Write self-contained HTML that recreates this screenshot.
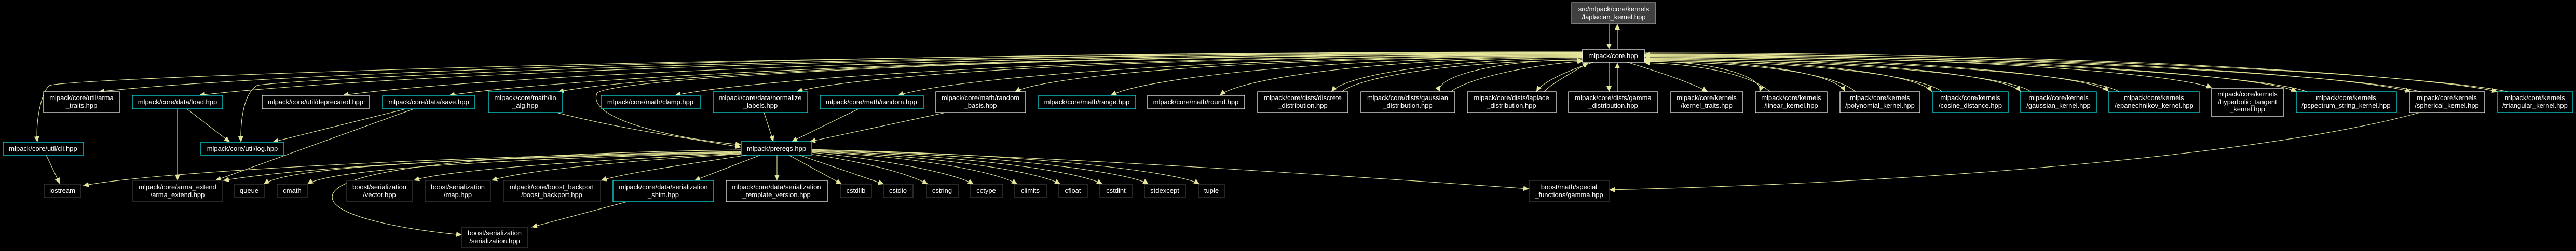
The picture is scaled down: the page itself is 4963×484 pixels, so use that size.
<!DOCTYPE html>
<html><head><meta charset="utf-8"><style>
html,body{margin:0;padding:0;background:#000;}
svg{display:block;}
text{font-family:"Liberation Sans",Arial,sans-serif;font-size:13px;fill:#fff;text-anchor:middle;}
.w{fill:#000;stroke:#f0f0f0;stroke-width:1.3;}
.c{fill:#000;stroke:#10dede;stroke-width:1.3;}
.g{fill:#000;stroke:#3a3a3a;stroke-width:1.3;}
.e path{fill:none;stroke:#e6e69a;stroke-width:1.1;}
</style></head><body>
<svg width="4963" height="484" viewBox="0 0 4963 484" xmlns="http://www.w3.org/2000/svg">
<defs><marker id="a" markerUnits="userSpaceOnUse" markerWidth="12" markerHeight="10" refX="11" refY="5" orient="auto"><path d="M0,0 L11,5 L0,10 Z" fill="#e6e69a"/></marker></defs>
<rect width="4963" height="484" fill="#000"/>
<g class="e" marker-end="url(#a)">
<path d="M3100,46 L3100,95" marker-end="url(#a)"/>
<path d="M3116,95 L3116,46" marker-end="url(#a)"/>
<path d="M3049,100 C1603,100 504,142 190,177" marker-end="url(#a)"/>
<path d="M3049,102 C1695,102 667,149 383,184" marker-end="url(#a)"/>
<path d="M3049,103 C1828,103 901,149 660,184" marker-end="url(#a)"/>
<path d="M3049,104 C1937,104 1093,149 865,184" marker-end="url(#a)"/>
<path d="M3049,105 C2030,105 1256,142 1075,177" marker-end="url(#a)"/>
<path d="M3049,106 C2151,106 1469,149 1300,184" marker-end="url(#a)"/>
<path d="M3049,107 C2257,107 1655,142 1535,177" marker-end="url(#a)"/>
<path d="M3049,108 C2364,108 1843,149 1730,184" marker-end="url(#a)"/>
<path d="M3049,109 C2469,109 2028,142 1955,177" marker-end="url(#a)"/>
<path d="M3049,110 C2571,110 2209,149 2140,184" marker-end="url(#a)"/>
<path d="M3049,111 C2676,111 2393,149 2350,184" marker-end="url(#a)"/>
<path d="M3049,113 C2780,113 2591,145 2565,177" marker-end="url(#a)"/>
<path d="M2585,177 C2620,148 2800,118 3049,116" marker-end="url(#a)"/>
<path d="M3049,115 C2880,115 2760,150 2775,177" marker-end="url(#a)"/>
<path d="M2795,177 C2830,150 2950,125 3050,118" marker-end="url(#a)"/>
<path d="M3070,120 C3010,140 2970,160 2960,177" marker-end="url(#a)"/>
<path d="M2975,177 C2990,160 3030,140 3060,121" marker-end="url(#a)"/>
<path d="M3100,120 L3100,177" marker-end="url(#a)"/>
<path d="M3116,177 L3116,121" marker-end="url(#a)"/>
<path d="M3135,120 C3200,140 3260,160 3290,177" marker-end="url(#a)"/>
<path d="M3168,118 C3310,118 3400,150 3390,177" marker-end="url(#a)"/>
<path d="M3410,177 C3380,150 3300,125 3168,121" marker-end="url(#a)"/>
<path d="M3168,116 C3395,116 3540,145 3555,177" marker-end="url(#a)"/>
<path d="M3575,177 C3540,145 3400,120 3168,119" marker-end="url(#a)"/>
<path d="M3168,114 C3482,114 3700,145 3722,177" marker-end="url(#a)"/>
<path d="M3742,177 C3700,145 3482,118 3168,117" marker-end="url(#a)"/>
<path d="M3168,112 C3567,112 3870,145 3893,177" marker-end="url(#a)"/>
<path d="M3913,177 C3870,145 3567,116 3168,115" marker-end="url(#a)"/>
<path d="M3168,110 C3659,110 4032,145 4063,177" marker-end="url(#a)"/>
<path d="M4083,177 C4032,145 3659,114 3168,113" marker-end="url(#a)"/>
<path d="M3168,108 C3749,108 4190,140 4262,170" marker-end="url(#a)"/>
<path d="M3168,106 C3844,106 4358,145 4425,177" marker-end="url(#a)"/>
<path d="M4445,177 C4358,145 3844,110 3168,109" marker-end="url(#a)"/>
<path d="M3168,104 C3941,104 4528,145 4645,177" marker-end="url(#a)"/>
<path d="M4665,177 C4528,145 3941,108 3168,107" marker-end="url(#a)"/>
<path d="M3168,102 C4026,102 4678,145 4812,177" marker-end="url(#a)"/>
<path d="M4832,177 C4678,145 4026,106 3168,105" marker-end="url(#a)"/>
<path d="M3049,101 C1500,101 130,150 95,165 C78,180 68,240 72,274" marker-end="url(#a)"/>
<path d="M3049,102 C1500,102 520,155 495,165 C470,180 463,230 464,274" marker-end="url(#a)"/>
<path d="M3049,104 C2000,104 1170,150 1150,180 C1130,230 1300,268 1428,279" marker-end="url(#a)"/>
<path d="M1072,217 C1200,250 1350,270 1428,284" marker-end="url(#a)"/>
<path d="M1472,217 L1490,273" marker-end="url(#a)"/>
<path d="M1654,210 L1525,273" marker-end="url(#a)"/>
<path d="M1822,217 L1560,273" marker-end="url(#a)"/>
<path d="M89,299 L115,354" marker-end="url(#a)"/>
<path d="M342,210 L342,348" marker-end="url(#a)"/>
<path d="M360,210 L443,274" marker-end="url(#a)"/>
<path d="M782,210 L525,274" marker-end="url(#a)"/>
<path d="M797,210 L415,348" marker-end="url(#a)"/>
<path d="M1429,292 C900,300 300,330 160,358" marker-end="url(#a)"/>
<path d="M1429,293 C1000,300 600,320 430,348" marker-end="url(#a)"/>
<path d="M1429,294 C900,305 560,320 508,355" marker-end="url(#a)"/>
<path d="M1429,295 C1000,305 640,325 592,355" marker-end="url(#a)"/>
<path d="M1429,296 C1100,310 850,330 797,348" marker-end="url(#a)"/>
<path d="M1429,297 C1200,310 1000,330 947,348" marker-end="url(#a)"/>
<path d="M1440,299 C1300,320 1200,335 1158,348" marker-end="url(#a)"/>
<path d="M1465,299 L1338,348" marker-end="url(#a)"/>
<path d="M1497,299 L1497,348" marker-end="url(#a)"/>
<path d="M1520,299 L1622,355" marker-end="url(#a)"/>
<path d="M1540,299 L1703,355" marker-end="url(#a)"/>
<path d="M1560,297 C1650,310 1740,330 1788,355" marker-end="url(#a)"/>
<path d="M1564,294 C1680,305 1830,330 1876,355" marker-end="url(#a)"/>
<path d="M1564,293 C1750,300 1920,330 1960,355" marker-end="url(#a)"/>
<path d="M1564,292 C1800,300 2000,330 2043,355" marker-end="url(#a)"/>
<path d="M1564,291 C1850,298 2080,330 2124,355" marker-end="url(#a)"/>
<path d="M1564,290 C1900,296 2170,330 2213,355" marker-end="url(#a)"/>
<path d="M1564,289 C1950,294 2270,330 2311,355" marker-end="url(#a)"/>
<path d="M1564,288 C2100,305 2600,340 2946,364" marker-end="url(#a)"/>
<path d="M4662,217 C4400,290 3800,350 3100,366" marker-end="url(#a)"/>
<path d="M1429,289 C1000,295 640,320 640,380 C640,420 800,445 890,453" marker-end="url(#a)"/>
<path d="M1208,389 L1024,438" marker-end="url(#a)"/>
</g>
<!-- nodes -->
<rect x="3028" y="5" width="162" height="41" fill="#404040" stroke="#a0a0a0" stroke-width="1.3"/>
<text x="3109" y="22">src/mlpack/core/kernels</text><text x="3109" y="37">/laplacian_kernel.hpp</text>
<rect class="w" x="3049" y="95" width="119" height="25"/><text x="3108" y="112">mlpack/core.hpp</text>

<rect class="w" x="84" y="177" width="146" height="40"/><text x="157" y="193">mlpack/core/util/arma</text><text x="157" y="208">_traits.hpp</text>
<rect class="c" x="255" y="184" width="174" height="26"/><text x="342" y="201">mlpack/core/data/load.hpp</text>
<rect class="w" x="505" y="184" width="206" height="26"/><text x="608" y="201">mlpack/core/util/deprecated.hpp</text>
<rect class="c" x="737" y="184" width="178" height="26"/><text x="826" y="201">mlpack/core/data/save.hpp</text>
<rect class="c" x="941" y="177" width="142" height="40"/><text x="1012" y="193">mlpack/core/math/lin</text><text x="1012" y="208">_alg.hpp</text>
<rect class="c" x="1158" y="184" width="191" height="26"/><text x="1253" y="201">mlpack/core/math/clamp.hpp</text>
<rect class="c" x="1374" y="177" width="182" height="40"/><text x="1465" y="193">mlpack/core/data/normalize</text><text x="1465" y="208">_labels.hpp</text>
<rect class="c" x="1580" y="184" width="199" height="26"/><text x="1679" y="201">mlpack/core/math/random.hpp</text>
<rect class="w" x="1803" y="177" width="173" height="40"/><text x="1889" y="193">mlpack/core/math/random</text><text x="1889" y="208">_basis.hpp</text>
<rect class="c" x="2001" y="184" width="187" height="26"/><text x="2094" y="201">mlpack/core/math/range.hpp</text>
<rect class="w" x="2211" y="184" width="187" height="26"/><text x="2304" y="201">mlpack/core/math/round.hpp</text>
<rect class="w" x="2423" y="177" width="174" height="40"/><text x="2510" y="193">mlpack/core/dists/discrete</text><text x="2510" y="208">_distribution.hpp</text>
<rect class="w" x="2622" y="177" width="181" height="40"/><text x="2712" y="193">mlpack/core/dists/gaussian</text><text x="2712" y="208">_distribution.hpp</text>
<rect class="w" x="2827" y="177" width="171" height="40"/><text x="2912" y="193">mlpack/core/dists/laplace</text><text x="2912" y="208">_distribution.hpp</text>
<rect class="w" x="3022" y="177" width="172" height="40"/><text x="3108" y="193">mlpack/core/dists/gamma</text><text x="3108" y="208">_distribution.hpp</text>
<rect class="w" x="3219" y="177" width="139" height="40"/><text x="3288" y="193">mlpack/core/kernels</text><text x="3288" y="208">/kernel_traits.hpp</text>
<rect class="w" x="3382" y="177" width="138" height="40"/><text x="3451" y="193">mlpack/core/kernels</text><text x="3451" y="208">/linear_kernel.hpp</text>
<rect class="w" x="3545" y="177" width="154" height="40"/><text x="3622" y="193">mlpack/core/kernels</text><text x="3622" y="208">/polynomial_kernel.hpp</text>
<rect class="c" x="3724" y="177" width="145" height="40"/><text x="3796" y="193">mlpack/core/kernels</text><text x="3796" y="208">/cosine_distance.hpp</text>
<rect class="c" x="3893" y="177" width="146" height="40"/><text x="3966" y="193">mlpack/core/kernels</text><text x="3966" y="208">/gaussian_kernel.hpp</text>
<rect class="c" x="4063" y="177" width="174" height="40"/><text x="4150" y="193">mlpack/core/kernels</text><text x="4150" y="208">/epanechnikov_kernel.hpp</text>
<rect class="w" x="4261" y="170" width="138" height="55"/><text x="4330" y="186">mlpack/core/kernels</text><text x="4330" y="201">/hyperbolic_tangent</text><text x="4330" y="215">_kernel.hpp</text>
<rect class="c" x="4424" y="177" width="193" height="40"/><text x="4520" y="193">mlpack/core/kernels</text><text x="4520" y="208">/pspectrum_string_kernel.hpp</text>
<rect class="w" x="4642" y="177" width="145" height="40"/><text x="4714" y="193">mlpack/core/kernels</text><text x="4714" y="208">/spherical_kernel.hpp</text>
<rect class="c" x="4812" y="177" width="145" height="40"/><text x="4884" y="193">mlpack/core/kernels</text><text x="4884" y="208">/triangular_kernel.hpp</text>

<rect class="c" x="6" y="274" width="155" height="25"/><text x="83" y="291">mlpack/core/util/cli.hpp</text>
<rect class="c" x="387" y="274" width="160" height="25"/><text x="467" y="291">mlpack/core/util/log.hpp</text>
<rect class="c" x="1428" y="273" width="136" height="26"/><text x="1496" y="291">mlpack/prereqs.hpp</text>

<rect class="g" x="85" y="355" width="71" height="26"/><text x="120" y="372">iostream</text>
<rect class="g" x="256" y="348" width="172" height="41"/><text x="342" y="365">mlpack/core/arma_extend</text><text x="342" y="380">/arma_extend.hpp</text>
<rect class="g" x="452" y="355" width="57" height="26"/><text x="480" y="372">queue</text>
<rect class="g" x="534" y="355" width="58" height="26"/><text x="563" y="372">cmath</text>
<rect class="g" x="668" y="348" width="127" height="41"/><text x="731" y="365">boost/serialization</text><text x="731" y="380">/vector.hpp</text>
<rect class="g" x="819" y="348" width="126" height="41"/><text x="882" y="365">boost/serialization</text><text x="882" y="380">/map.hpp</text>
<rect class="g" x="970" y="348" width="187" height="41"/><text x="1063" y="365">mlpack/core/boost_backport</text><text x="1063" y="380">/boost_backport.hpp</text>
<rect class="c" x="1181" y="348" width="194" height="41"/><text x="1278" y="365">mlpack/core/data/serialization</text><text x="1278" y="380">_shim.hpp</text>
<rect class="w" x="1399" y="348" width="195" height="41"/><text x="1496" y="365">mlpack/core/data/serialization</text><text x="1496" y="380">_template_version.hpp</text>
<rect class="g" x="1619" y="355" width="60" height="26"/><text x="1649" y="372">cstdlib</text>
<rect class="g" x="1702" y="355" width="57" height="26"/><text x="1730" y="372">cstdio</text>
<rect class="g" x="1785" y="355" width="61" height="26"/><text x="1815" y="372">cstring</text>
<rect class="g" x="1869" y="355" width="63" height="26"/><text x="1900" y="372">cctype</text>
<rect class="g" x="1955" y="355" width="61" height="26"/><text x="1985" y="372">climits</text>
<rect class="g" x="2040" y="355" width="55" height="26"/><text x="2067" y="372">cfloat</text>
<rect class="g" x="2119" y="355" width="62" height="26"/><text x="2150" y="372">cstdint</text>
<rect class="g" x="2205" y="355" width="79" height="26"/><text x="2244" y="372">stdexcept</text>
<rect class="g" x="2309" y="355" width="50" height="26"/><text x="2334" y="372">tuple</text>
<rect class="g" x="2946" y="348" width="154" height="41"/><text x="3023" y="365">boost/math/special</text><text x="3023" y="380">_functions/gamma.hpp</text>
<rect class="g" x="890" y="438" width="127" height="40"/><text x="953" y="454">boost/serialization</text><text x="953" y="469">/serialization.hpp</text>
</svg>
</body></html>
